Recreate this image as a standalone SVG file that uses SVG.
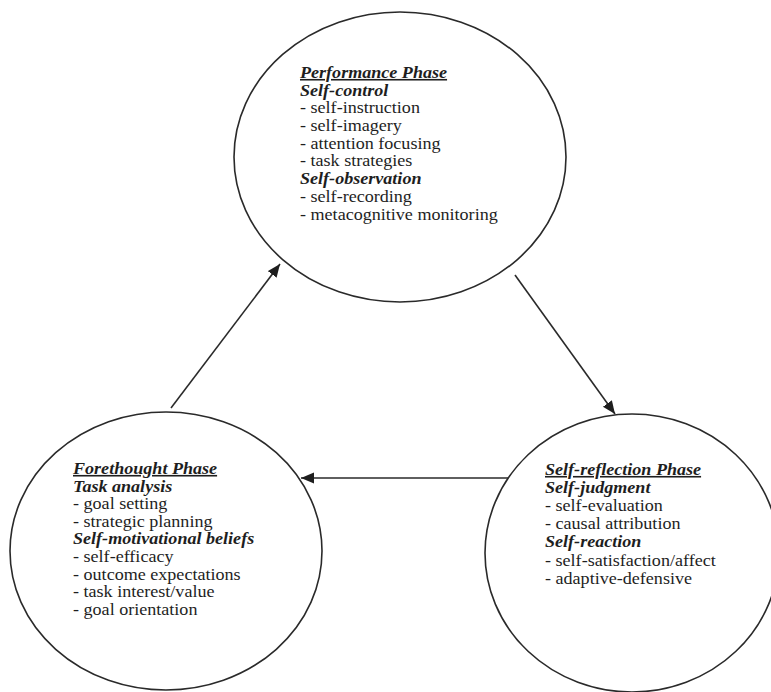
<svg xmlns="http://www.w3.org/2000/svg" width="771" height="692" viewBox="0 0 771 692">
<style>
.node{fill:#fff;stroke:#2a2a2a;stroke-width:1.6}
.t{font-family:'Liberation Serif','Times New Roman',Times,serif;font-size:16px;fill:#1e1e1e}
.h{font-weight:bold;font-style:italic}
.u{text-decoration:underline}
.edge{stroke:#2a2a2a;stroke-width:1.6;fill:none;marker-end:url(#ah)}
</style>
<defs>
<marker id="ah" markerUnits="userSpaceOnUse" markerWidth="14" markerHeight="12" refX="13" refY="5.5" orient="auto">
<path d="M0,0 L13,5.5 L0,11 z" fill="#1e1e1e"/>
</marker>
</defs>
<rect width="771" height="692" fill="#fff"/>
<g id="performance">
<ellipse class="node" cx="400" cy="157" rx="166" ry="145"/>
<g transform="translate(300,0) scale(1.13,1)" font-family="Liberation Serif, serif">
<text class="t h u" x="0" y="78">Performance Phase</text>
<text class="t h" x="0" y="95.7">Self-control</text>
<text class="t" x="0" y="113.4">- self-instruction</text>
<text class="t" x="0" y="131.1">- self-imagery</text>
<text class="t" x="0" y="148.8">- attention focusing</text>
<text class="t" x="0" y="166.5">- task strategies</text>
<text class="t h" x="0" y="184.2">Self-observation</text>
<text class="t" x="0" y="201.9">- self-recording</text>
<text class="t" x="0" y="219.6">- metacognitive monitoring</text>
</g>
</g>
<g id="forethought">
<ellipse class="node" cx="166" cy="551" rx="156" ry="139"/>
<g transform="translate(73,0) scale(1.13,1)" font-family="Liberation Serif, serif">
<text class="t h u" x="0" y="474">Forethought Phase</text>
<text class="t h" x="0" y="491.6">Task analysis</text>
<text class="t" x="0" y="509.2">- goal setting</text>
<text class="t" x="0" y="526.8">- strategic planning</text>
<text class="t h" x="0" y="544.4">Self-motivational beliefs</text>
<text class="t" x="0" y="562">- self-efficacy</text>
<text class="t" x="0" y="579.6">- outcome expectations</text>
<text class="t" x="0" y="597.2">- task interest/value</text>
<text class="t" x="0" y="614.8">- goal orientation</text>
</g>
</g>
<g id="selfreflection">
<ellipse class="node" cx="632" cy="553" rx="147" ry="139"/>
<g transform="translate(545,0) scale(1.13,1)" font-family="Liberation Serif, serif">
<text class="t h u" x="0" y="475">Self-reflection Phase</text>
<text class="t h" x="0" y="493">Self-judgment</text>
<text class="t" x="0" y="511">- self-evaluation</text>
<text class="t" x="0" y="529">- causal attribution</text>
<text class="t h" x="0" y="547.5">Self-reaction</text>
<text class="t" x="0" y="566">- self-satisfaction/affect</text>
<text class="t" x="0" y="584">- adaptive-defensive</text>
</g>
</g>
<g id="connectors">
<line class="edge" x1="171" y1="408" x2="280" y2="264"/>
<line class="edge" x1="515" y1="275" x2="615" y2="414"/>
<line class="edge" x1="508" y1="478" x2="301" y2="478"/>
</g>
</svg>
